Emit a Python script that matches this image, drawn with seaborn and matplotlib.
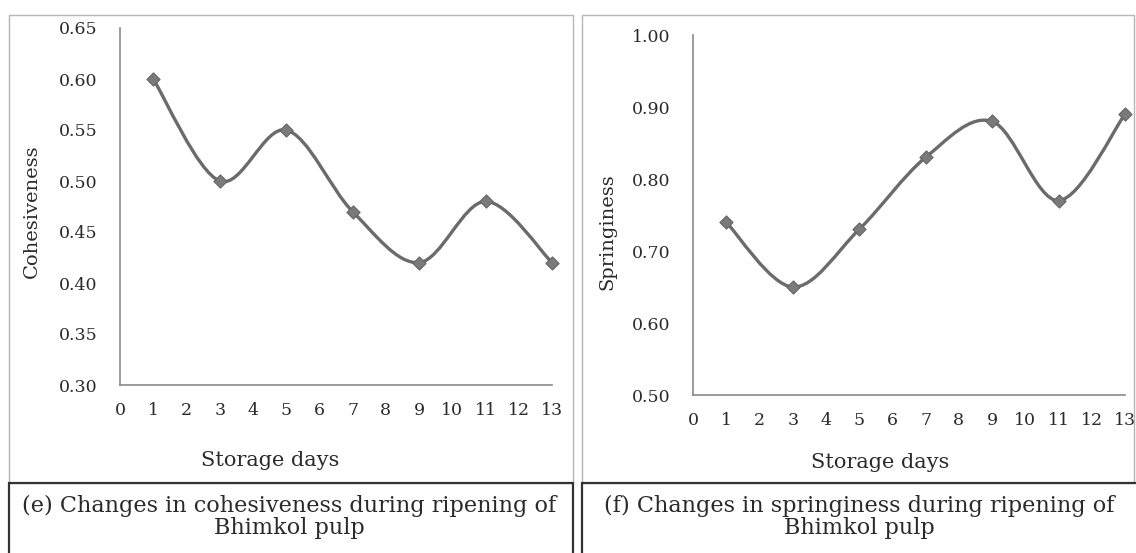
import matplotlib
matplotlib.use("Agg")
import matplotlib.pyplot as plt
import seaborn as sns
import numpy as np
import pandas as pd
from matplotlib.path import Path
from matplotlib.patches import PathPatch, Rectangle

# ---- data ----
storage_days = [1, 3, 5, 7, 9, 11, 13]
cohesiveness = [0.60, 0.50, 0.55, 0.47, 0.42, 0.48, 0.42]
springiness = [0.74, 0.65, 0.73, 0.83, 0.88, 0.77, 0.89]
x_ticks = list(range(0, 14))
coh_ticks = [0.30, 0.35, 0.40, 0.45, 0.50, 0.55, 0.60, 0.65]
spr_ticks = [0.50, 0.60, 0.70, 0.80, 0.90, 1.00]
captions = ["(e) Changes in cohesiveness during ripening of\nBhimkol pulp",
            "(f) Changes in springiness during ripening of\nBhimkol pulp"]
ylabels = ["Cohesiveness", "Springiness"]

sns.set_style("white")
plt.rcParams['font.family'] = ['DejaVu Serif', 'Liberation Serif']

W, H = 1136, 553
fig = plt.figure(figsize=(W / 100, H / 100), dpi=100)

def fx(px):
    return px / W

def fy(py):
    return 1 - py / H

LINE = "#6b6b6b"
AXC = "#8a8a8a"
TXT = "#2a2a2a"

def smooth_path(xs, ys):
    pts = np.column_stack([xs, ys]).astype(float)
    n = len(pts)
    verts = [pts[0]]
    codes = [Path.MOVETO]
    for i in range(n - 1):
        p0 = pts[i - 1] if i > 0 else pts[i]
        p1 = pts[i]
        p2 = pts[i + 1]
        p3 = pts[i + 2] if i + 2 < n else pts[i + 1]
        c1 = p1 + (p2 - p0) / 6.0
        c2 = p2 - (p3 - p1) / 6.0
        verts += [c1, c2, p2]
        codes += [Path.CURVE4] * 3
    return Path(verts, codes)

panels = [
    dict(rect=(120, 28, 552, 385), vals=cohesiveness, yt=coh_ticks, ylim=(0.30, 0.65),
         ylab=(32, 211), xlab=(270, 460), cap_x=289),
    dict(rect=(693, 35, 1125, 395), vals=springiness, yt=spr_ticks, ylim=(0.50, 1.00),
         ylab=(607, 232), xlab=(880, 462), cap_x=859),
]

for k, p in enumerate(panels):
    x0, y0, x1, y1 = p["rect"]
    ax = fig.add_axes([fx(x0), fy(y1), fx(x1) - fx(x0), fy(y0) - fy(y1)])
    df = pd.DataFrame({"day": storage_days, "val": p["vals"]})
    patch = PathPatch(smooth_path(df["day"], df["val"]), fill=False, edgecolor=LINE,
                      lw=2.4, transform=ax.transData, clip_on=False, zorder=2)
    ax.add_patch(patch)
    sns.scatterplot(data=df, x="day", y="val", ax=ax, marker="D", s=45,
                    color="#7a7a7a", edgecolor="#666666", linewidth=0.8,
                    zorder=3, clip_on=False)
    ax.set_xlim(0, 13)
    ax.set_ylim(*p["ylim"])
    ax.set_xticks(x_ticks)
    ax.set_xticklabels([str(t) for t in x_ticks])
    ax.set_yticks(p["yt"])
    ax.set_yticklabels(["{:.2f}".format(t) for t in p["yt"]])
    for s in ["top", "right"]:
        ax.spines[s].set_visible(False)
    for s in ["left", "bottom"]:
        ax.spines[s].set_color(AXC)
        ax.spines[s].set_linewidth(1.2)
    ax.tick_params(axis="x", direction="inout", length=5, width=1, color=AXC,
                   labelsize=12.5, labelcolor=TXT, pad=10)
    ax.tick_params(axis="y", direction="out", length=4, width=1, color=AXC,
                   labelsize=12.5, labelcolor=TXT, pad=12)
    ax.set_xlabel("")
    ax.set_ylabel("")
    ax.patch.set_alpha(0)
    fig.text(fx(p["xlab"][0]), fy(p["xlab"][1]), "Storage days", ha="center",
             va="center", fontsize=15, color=TXT)
    fig.text(fx(p["ylab"][0]), fy(p["ylab"][1]), ylabels[k], rotation=90,
             ha="center", va="center", fontsize=14, color=TXT)
    fig.text(fx(p["cap_x"]), fy(517), captions[k], ha="center", va="center",
             fontsize=16.1, color=TXT, linespacing=1.0)

# panel frames
frames = [(9, 15, 573, 483), (582, 15, 1134, 483)]
for (a, b, c, d) in frames:
    fig.add_artist(Rectangle((fx(a), fy(d)), fx(c) - fx(a), fy(b) - fy(d),
                             transform=fig.transFigure, fill=False,
                             edgecolor="#b5b5b5", lw=1.0))
caps = [(9, 483, 573, 560), (582, 483, 1140, 560)]
for (a, b, c, d) in caps:
    fig.add_artist(Rectangle((fx(a), fy(d)), fx(c) - fx(a), fy(b) - fy(d),
                             transform=fig.transFigure, fill=False,
                             edgecolor="#333333", lw=1.6, clip_on=False))

fig.savefig("out.png", dpi=100)
